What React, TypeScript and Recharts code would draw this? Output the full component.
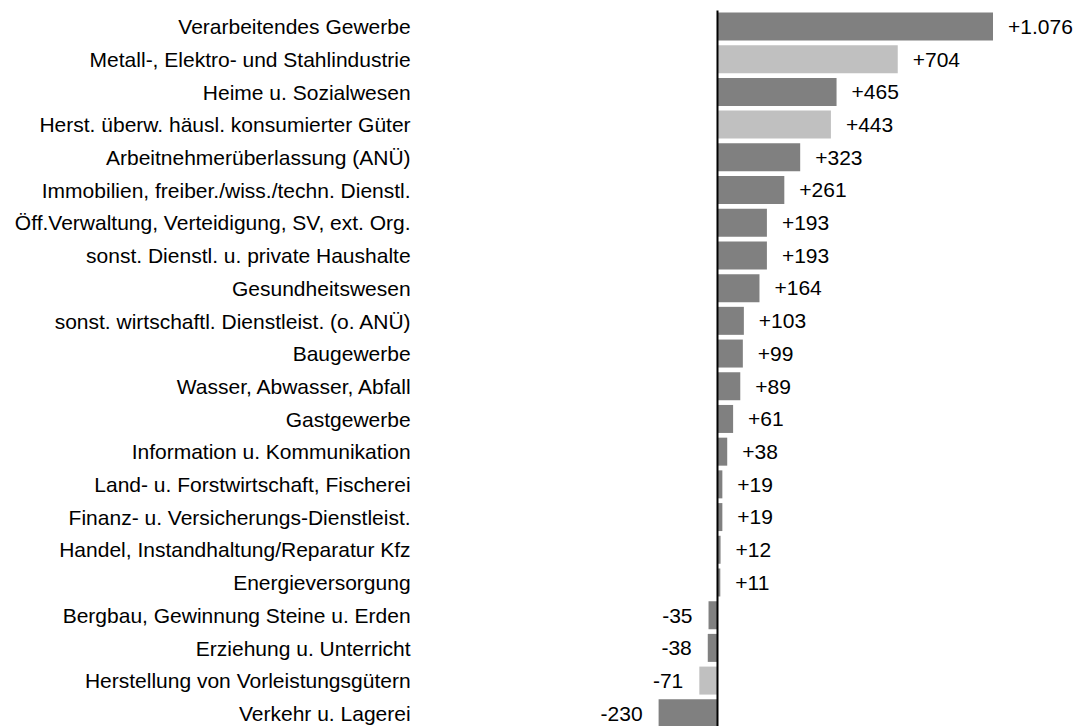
import { Bar, BarChart, Cell, LabelList, ReferenceLine, XAxis, YAxis } from "recharts";

const categories = [
  "Verarbeitendes Gewerbe",
  "Metall-, Elektro- und Stahlindustrie",
  "Heime u. Sozialwesen",
  "Herst. überw. häusl. konsumierter Güter",
  "Arbeitnehmerüberlassung (ANÜ)",
  "Immobilien, freiber./wiss./techn. Dienstl.",
  "Öff.Verwaltung, Verteidigung, SV, ext. Org.",
  "sonst. Dienstl. u. private Haushalte",
  "Gesundheitswesen",
  "sonst. wirtschaftl. Dienstleist. (o. ANÜ)",
  "Baugewerbe",
  "Wasser, Abwasser, Abfall",
  "Gastgewerbe",
  "Information u. Kommunikation",
  "Land- u. Forstwirtschaft, Fischerei",
  "Finanz- u. Versicherungs-Dienstleist.",
  "Handel, Instandhaltung/Reparatur Kfz",
  "Energieversorgung",
  "Bergbau, Gewinnung Steine u. Erden",
  "Erziehung u. Unterricht",
  "Herstellung von Vorleistungsgütern",
  "Verkehr u. Lagerei",
];

const changes = [1076, 704, 465, 443, 323, 261, 193, 193, 164, 103, 99, 89, 61, 38, 19, 19, 12, 11, -35, -38, -71, -230];

// Teilbereiche des Verarbeitenden Gewerbes (hell dargestellt)
const subSectors = [
  "Metall-, Elektro- und Stahlindustrie",
  "Herst. überw. häusl. konsumierter Güter",
  "Herstellung von Vorleistungsgütern",
];

const DARK = "#808080";
const LIGHT = "#c0c0c0";
const FONT = "'Liberation Sans', Arial, sans-serif";
const FONT_SIZE = 21;

const data = categories.map((name, i) => ({ name, value: changes[i] }));

function fmt(v: number) {
  const abs = Math.abs(v)
    .toString()
    .replace(/\B(?=(\d{3})+(?!\d))/g, ".");
  return (v > 0 ? "+" : "-") + abs;
}

function CategoryTick(props: any) {
  const { x, y, payload } = props;
  return (
    <text x={x - 248} y={y} dy="0.35em" textAnchor="end" fontFamily={FONT} fontSize={FONT_SIZE} fill="#000">
      {payload.value}
    </text>
  );
}

function ValueLabel(props: any) {
  const { x, y, width, height, value } = props;
  const left = Math.min(x, x + width);
  const right = Math.max(x, x + width);
  const pos = value >= 0;
  return (
    <text
      x={pos ? right + 15 : left - 16}
      y={y + height / 2}
      dy="0.35em"
      textAnchor={pos ? "start" : "end"}
      fontFamily={FONT}
      fontSize={FONT_SIZE}
      fill="#000"
    >
      {fmt(value)}
    </text>
  );
}

export default function App() {
  return (
    <div style={{ position: "absolute", left: 0, top: 0, width: 1076, height: 726, overflow: "hidden", background: "#fff" }}>
      <BarChart
        width={1076}
        height={730}
        data={data}
        layout="vertical"
        margin={{ top: 10.5, right: 83, bottom: 0, left: 0 }}
        barSize={28}
      >
        <XAxis type="number" domain={[-230, 1076]} hide />
        <YAxis
          type="category"
          dataKey="name"
          width={658.6}
          axisLine={false}
          tickLine={false}
          tickSize={0}
          tickMargin={0}
          interval={0}
          tick={<CategoryTick />}
        />
        <Bar dataKey="value" isAnimationActive={false}>
          {data.map((d) => (
            <Cell key={d.name} fill={subSectors.includes(d.name) ? LIGHT : DARK} />
          ))}
          <LabelList dataKey="value" content={<ValueLabel />} />
        </Bar>
        <ReferenceLine x={0} stroke="#000" strokeWidth={2} />
      </BarChart>
    </div>
  );
}
